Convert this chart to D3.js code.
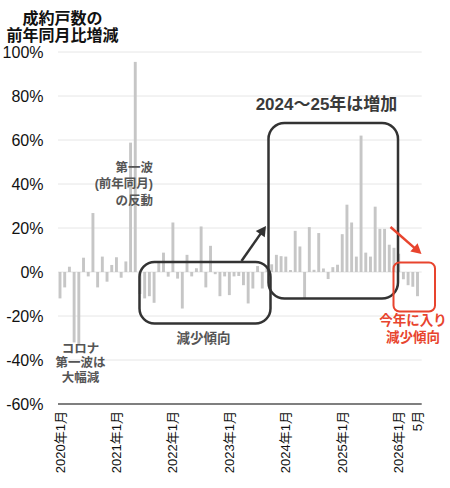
<!DOCTYPE html>
<html><head><meta charset="utf-8">
<script src="https://cdn.jsdelivr.net/npm/d3@7"></script>
<style>
html,body{margin:0;padding:0;background:#fff;}
svg{display:block;font-family:"Liberation Sans","Noto Sans CJK JP",sans-serif;}
</style></head>
<body><svg id="c" width="450" height="488"></svg>
<script>
// ---- data ----
const categories = [
 "2020-01","2020-02","2020-03","2020-04","2020-05","2020-06","2020-07","2020-08","2020-09","2020-10","2020-11","2020-12",
 "2021-01","2021-02","2021-03","2021-04","2021-05","2021-06","2021-07","2021-08","2021-09","2021-10","2021-11","2021-12",
 "2022-01","2022-02","2022-03","2022-04","2022-05","2022-06","2022-07","2022-08","2022-09","2022-10","2022-11","2022-12",
 "2023-01","2023-02","2023-03","2023-04","2023-05","2023-06","2023-07","2023-08","2023-09","2023-10","2023-11","2023-12",
 "2024-01","2024-02","2024-03","2024-04","2024-05","2024-06","2024-07","2024-08","2024-09","2024-10","2024-11","2024-12",
 "2025-01","2025-02","2025-03","2025-04","2025-05","2025-06","2025-07","2025-08","2025-09","2025-10","2025-11","2025-12",
 "2026-01","2026-02","2026-03","2026-04","2026-05"];
const values = [
 -12, -7, 2.4, -32, -33, 6.5, -2, 26.8, -7, 7, -4.4, 3.2,
 6.7, -2.6, 4.8, 58.8, 95.5, -10, -12, -11, -14, 4.3, 8.8, -2.1,
 22.5, -3, -16.6, 7.8, -2, 1.7, 20.7, -7, 11.9, -1, -11, -2,
 -10.5, -2, -1.8, -6, -14.3, -7.5, 2.7, -7.5, 2, 3.5, 7.8, 7.2,
 7, 0.9, 18.7, 11.6, -12, 20.4, 1, 17.7, 1.6, -3.2, 2.2, 3.3,
 17.2, 30.6, 22.5, 7, 62, 8.8, 7, 29.7, 19.6, 19.6, 12.4, 11,
 8.3, -3.3, -6, -6.7, -11];
const xTickCats = ["2020-01","2021-01","2022-01","2023-01","2024-01","2025-01","2026-01","2026-05"];
const xTickLabels = ["2020年1月","2021年1月","2022年1月","2023年1月","2024年1月","2025年1月","2026年1月","5月"];
const yTicks = [100, 80, 60, 40, 20, 0, -20, -40, -60];
const titleLines = ["成約戸数の","前年同月比増減"];
const noteRebound = ["第一波","(前年同月)","の反動"];
const noteCovid = ["コロナ","第一波は","大幅減"];
const noteDecline = "減少傾向";
const noteIncrease = "2024〜25年は増加";
const noteThisYear = ["今年に入り","減少傾向"];

// ---- layout ----
const svg = d3.select("#c");
const step = 4.704;
const x0 = 60 - step/2;
const x = d3.scaleBand().domain(categories).range([x0, x0 + step*categories.length]).padding(0);
const y = d3.scaleLinear().domain([-60, 100]).range([404, 52]);
const gridX1 = 58, gridX2 = 421.7;
const cx = c => x(c) + x.bandwidth()/2;

// gridlines
svg.append("g").selectAll("line").data(yTicks.filter(t => t !== -60)).join("line")
  .attr("x1", gridX1).attr("x2", gridX2)
  .attr("y1", d => y(d)).attr("y2", d => y(d))
  .attr("stroke", "#e6e6e6").attr("stroke-width", 1);

// y labels
svg.append("g").selectAll("text").data(yTicks).join("text")
  .attr("x", 43.5).attr("y", d => y(d)).attr("dy", "0.35em")
  .attr("text-anchor", "end").attr("font-size", 16).attr("fill", "#111")
  .text(d => d + "%");

// bars
const bw = 2.9;
svg.append("g").selectAll("rect").data(values).join("rect")
  .attr("x", (d, i) => cx(categories[i]) - bw/2)
  .attr("width", bw)
  .attr("y", d => y(Math.max(0, d)))
  .attr("height", d => Math.abs(y(d) - y(0)))
  .attr("fill", "#c6c6c6");

// bottom axis line
svg.append("line").attr("x1", gridX1).attr("x2", gridX2)
  .attr("y1", y(-60)).attr("y2", y(-60))
  .attr("stroke", "#555").attr("stroke-width", 1.5);

// x labels
svg.append("g").selectAll("text").data(xTickCats).join("text")
  .attr("transform", d => `translate(${cx(d)},411) rotate(-90)`)
  .attr("dy", "0.35em").attr("text-anchor", "end")
  .attr("font-size", 13).attr("fill", "#111")
  .text((d, i) => xTickLabels[i]);

// title
svg.append("g").selectAll("text").data(titleLines).join("text")
  .attr("x", 62.5).attr("y", (d, i) => 18.5 + i*17)
  .attr("dominant-baseline", "central").attr("text-anchor", "middle")
  .attr("font-size", 16).attr("font-weight", "bold").attr("fill", "#111")
  .text(d => d);

const gray = "#555", dark = "#333", red = "#e8442e";
function lines(arr, xx, y0, dy, anchor, size, color) {
  svg.append("g").selectAll("text").data(arr).join("text")
    .attr("x", xx).attr("y", (d, i) => y0 + i*dy)
    .attr("dominant-baseline", "central").attr("text-anchor", anchor)
    .attr("font-size", size).attr("font-weight", "bold").attr("fill", color)
    .text(d => d);
}
lines(noteRebound, 153, 167.5, 16.5, "end", 12.5, gray);
lines(noteCovid, 80.5, 348.5, 14.5, "middle", 12.5, gray);
lines([noteDecline], 203.5, 338, 0, "middle", 13.5, gray);
lines([noteIncrease], 326.5, 104, 0, "middle", 17, "#3a3a3a");
lines(noteThisYear, 413, 320, 17.5, "middle", 13.5, red);

// rounded rectangles
svg.append("rect").attr("x", 139.5).attr("y", 262).attr("width", 131).attr("height", 61.5)
  .attr("rx", 15).attr("fill", "none").attr("stroke", dark).attr("stroke-width", 2.5);
svg.append("rect").attr("x", 268.5).attr("y", 123).attr("width", 129.5).attr("height", 175.5)
  .attr("rx", 16).attr("fill", "none").attr("stroke", dark).attr("stroke-width", 2.5);
svg.append("rect").attr("x", 393.5).attr("y", 262.5).attr("width", 41.5).attr("height", 49)
  .attr("rx", 6).attr("fill", "none").attr("stroke", red).attr("stroke-width", 2);

// arrows
function arrow(xa, ya, xb, yb, color, w, head) {
  const ang = Math.atan2(yb - ya, xb - xa);
  const bx = xb - head*Math.cos(ang), by = yb - head*Math.sin(ang);
  svg.append("line").attr("x1", xa).attr("y1", ya).attr("x2", bx + Math.cos(ang)).attr("y2", by + Math.sin(ang))
    .attr("stroke", color).attr("stroke-width", w);
  const hw = head*0.55;
  const px = -Math.sin(ang), py = Math.cos(ang);
  svg.append("path").attr("d", `M${xb},${yb}L${bx + px*hw},${by + py*hw}L${bx - px*hw},${by - py*hw}Z`)
    .attr("fill", color);
}
arrow(241.5, 261, 266, 226, dark, 2.5, 10);
arrow(390.5, 227, 421.5, 254, red, 2.5, 10);
</script></body></html>
